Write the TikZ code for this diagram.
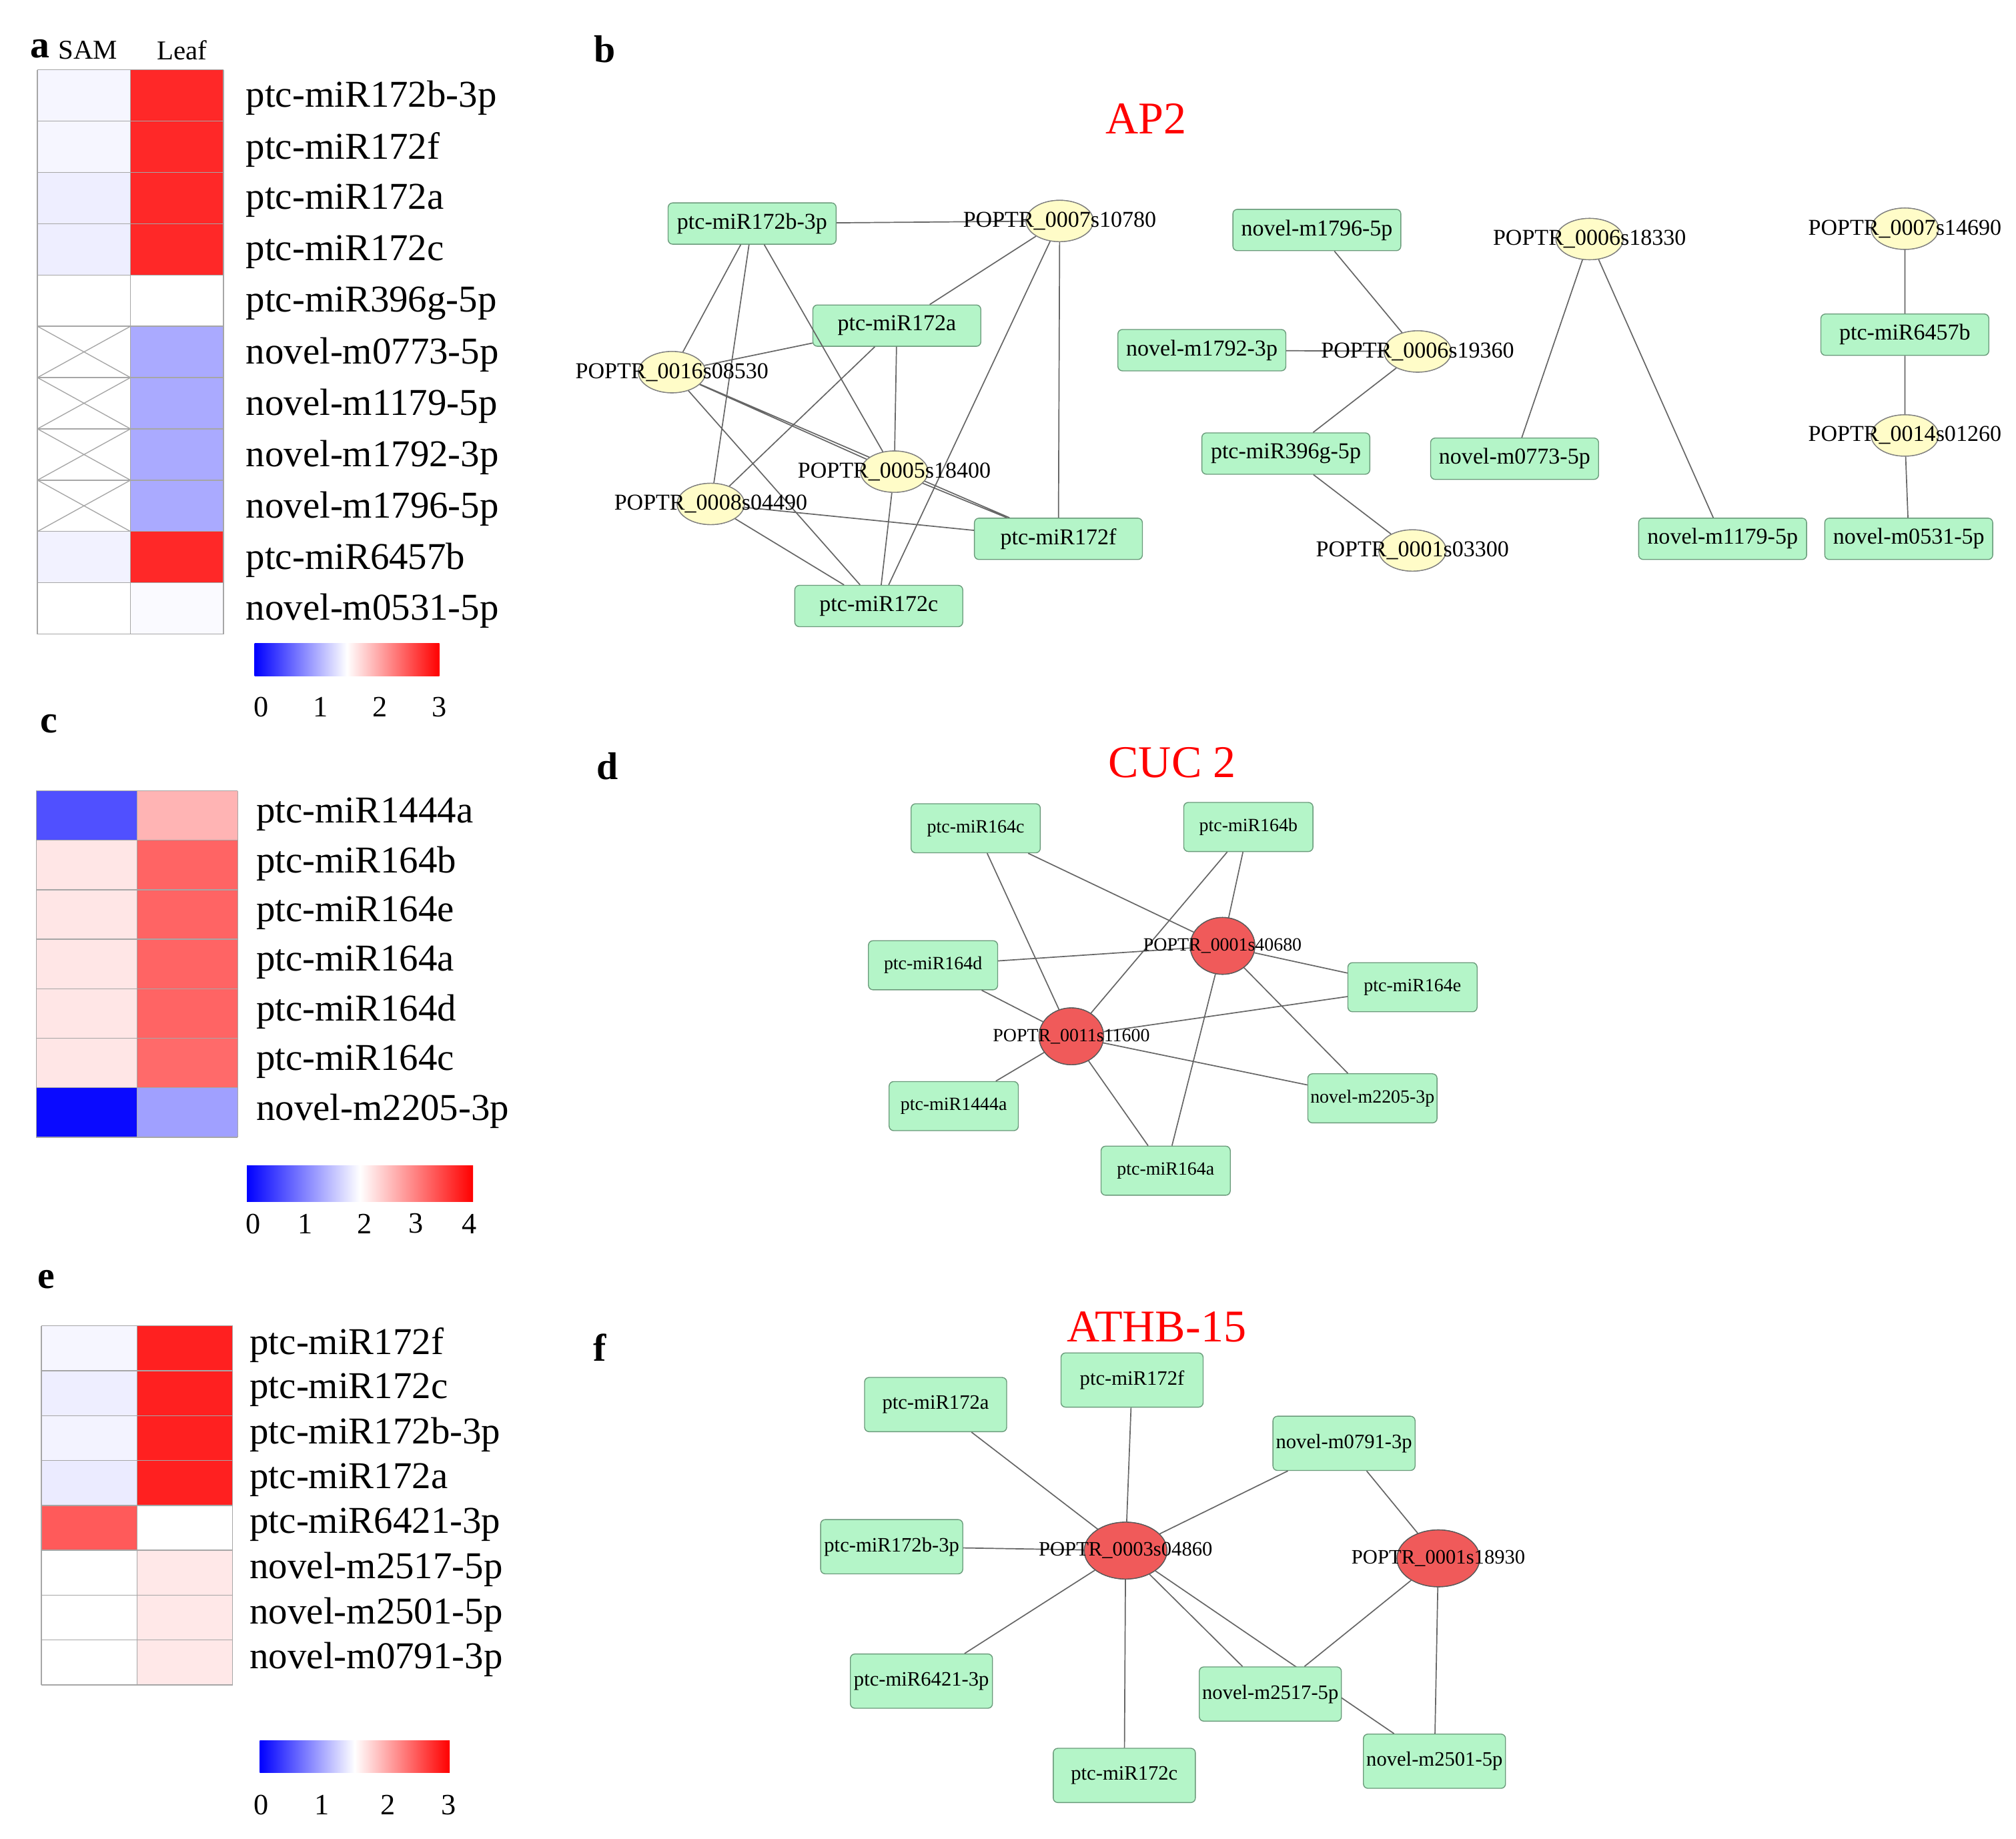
\documentclass[tikz,border=0pt]{standalone}
\usepackage{fontspec}
\setmainfont{Liberation Serif}
\usetikzlibrary{shapes.geometric}
\definecolor{gfill}{HTML}{B4F5C8}
\definecolor{gdraw}{HTML}{6A9A7A}
\definecolor{yfill}{HTML}{FFFCC8}
\definecolor{rfill}{HTML}{F05A5A}
\begin{document}
\begin{tikzpicture}[x=0.02cm,y=-0.02cm,
 gb/.style={draw=gdraw,fill=gfill,rounded corners=2pt,minimum width=2.6cm,minimum height=0.64cm,font=\fontsize{10}{11}\selectfont,inner sep=1pt},
 gd/.style={draw=gdraw,fill=gfill,rounded corners=2pt,minimum width=2cm,minimum height=0.76cm,font=\fontsize{8.2}{9}\selectfont,inner sep=1pt},
 gf/.style={draw=gdraw,fill=gfill,rounded corners=2pt,minimum width=2.2cm,minimum height=0.84cm,font=\fontsize{9}{10}\selectfont,inner sep=1pt},
 ye/.style={ellipse,draw=gray,fill=yfill,minimum width=1.04cm,minimum height=0.64cm,inner sep=0pt},
 re/.style={ellipse,draw=gray!70!black,fill=rfill,minimum width=1cm,minimum height=0.88cm,inner sep=0pt},
 rf/.style={ellipse,draw=gray!70!black,fill=rfill,minimum width=1.28cm,minimum height=0.88cm,inner sep=0pt},
 lab/.style={font=\fontsize{10}{11}\selectfont,inner sep=0pt},
 labf/.style={font=\fontsize{9}{10}\selectfont,inner sep=0pt},
 labs/.style={font=\fontsize{8.2}{9}\selectfont,inner sep=0pt},
 hl/.style={anchor=west,font=\fontsize{16.7}{17}\selectfont,inner sep=0pt},
 tl/.style={font=\fontsize{20}{22}\selectfont,text=red},
 pl/.style={font=\bfseries\fontsize{17}{18}\selectfont},
 ed/.style={draw=gray!80!black,line width=0.5pt},
 cell/.style={draw=gray!70,line width=0.4pt},
 cb/.style={font=\fontsize{13}{14}\selectfont}]
\useasboundingbox (0,0) rectangle (1560,1423);
% ===== a =====
\node[pl] (la) at (31,38) {a};
\node[font=\fontsize{12}{13}\selectfont] (sam) at (68,39) {SAM};
\node[font=\fontsize{12}{13}\selectfont] (leaf) at (141,39) {Leaf};
\foreach \i/\cs/\cl/\t in {0/F6F6FF/FF2828/ptc-miR172b-3p,1/F6F6FF/FF2828/ptc-miR172f,2/EEEEFF/FF2828/ptc-miR172a,3/EEEEFF/FF2828/ptc-miR172c,4/FFFFFF/FFFFFF/ptc-miR396g-5p,5/FFFFFF/AAAAFF/novel-m0773-5p,6/FFFFFF/AAAAFF/novel-m1179-5p,7/FFFFFF/AAAAFF/novel-m1792-3p,8/FFFFFF/AAAAFF/novel-m1796-5p,9/F2F2FF/FF2828/ptc-miR6457b,10/FFFFFF/FAFAFF/novel-m0531-5p}{
 \definecolor{tcs}{HTML}{\cs}\definecolor{tcl}{HTML}{\cl}
 \fill[tcs] (29,54+\i*39.7) rectangle (101,54+\i*39.7+39.7);
 \fill[tcl] (101,54+\i*39.7) rectangle (173,54+\i*39.7+39.7);
 \node[hl] (ta\i) at (190,76+\i*39.7) {\t};
}
\foreach \i in {5,...,8}{\draw[gray!70,line width=0.4pt] (29,54+\i*39.7) -- (101,54+\i*39.7+39.7) (29,54+\i*39.7+39.7) -- (101,54+\i*39.7);}
\foreach \i in {0,...,11}{\draw[cell] (29,54+\i*39.7) -- (173,54+\i*39.7);}
\draw[cell] (29,54) -- (29,491) (101,54) -- (101,491) (173,54) -- (173,491);
\shade[left color=blue,right color=red,middle color=white] (197,498) rectangle (340,523);
\foreach \v/\x in {0/202,1/248,2/294,3/340}{\node[cb] (ca\v) at (\x,547) {\v};}
% ===== c =====
\node[pl] (lc) at (38,560) {c};
\foreach \i/\cs/\cl/\t in {0/5050FF/FFB4B4/ptc-miR1444a,1/FFE6E6/FF6464/ptc-miR164b,2/FFE6E6/FF6464/ptc-miR164e,3/FFE6E6/FF6464/ptc-miR164a,4/FFE6E6/FF6464/ptc-miR164d,5/FFE6E6/FF6A6A/ptc-miR164c,6/0A0AFF/A0A0FF/novel-m2205-3p}{
 \definecolor{tcs}{HTML}{\cs}\definecolor{tcl}{HTML}{\cl}
 \fill[tcs] (28,612+\i*38.3) rectangle (106,612+\i*38.3+38.3);
 \fill[tcl] (106,612+\i*38.3) rectangle (184,612+\i*38.3+38.3);
 \node[hl] (tc\i) at (198,630+\i*38.3) {\t};
}
\foreach \i in {0,...,7}{\draw[cell] (28,612+\i*38.3) -- (184,612+\i*38.3);}
\draw[cell] (28,612) -- (28,880) (106,612) -- (106,880) (184,612) -- (184,880);
\shade[left color=blue,right color=red,middle color=white] (191,902) rectangle (366,930);
\foreach \v/\x in {0/196,1/236,2/282,3/322,4/363}{\node[cb] (cc\v) at (\x,947) {\v};}
% ===== e =====
\node[pl] (le) at (36,990) {e};
\foreach \i/\cs/\cl/\t in {0/F6F6FF/FF2020/ptc-miR172f,1/EEEEFF/FF2020/ptc-miR172c,2/F3F3FF/FF2020/ptc-miR172b-3p,3/EBEBFF/FF2020/ptc-miR172a,4/FF5A5A/FFFFFF/ptc-miR6421-3p,5/FFFFFF/FFE8E8/novel-m2517-5p,6/FFFFFF/FFE8E8/novel-m2501-5p,7/FFFFFF/FFE8E8/novel-m0791-3p}{
 \definecolor{tcs}{HTML}{\cs}\definecolor{tcl}{HTML}{\cl}
 \fill[tcs] (32,1026+\i*34.75) rectangle (106,1026+\i*34.75+34.75);
 \fill[tcl] (106,1026+\i*34.75) rectangle (180,1026+\i*34.75+34.75);
 \node[hl] (te\i) at (193,1041+\i*34.75) {\t};
}
\foreach \i in {0,...,8}{\draw[cell] (32,1026+\i*34.75) -- (180,1026+\i*34.75);}
\draw[cell] (32,1026) -- (32,1304) (106,1026) -- (106,1304) (180,1026) -- (180,1304);
\shade[left color=blue,right color=red,middle color=white] (201,1347) rectangle (348,1372);
\foreach \v/\x in {0/202,1/249,2/300,3/347}{\node[cb] (ce\v) at (\x,1397) {\v};}
% ===== b =====
\node[pl] (lb) at (468,38) {b};
\node[tl] (tb) at (887,92) {AP2};
\node[ye] (p10780) at (820,171) {};
\node[ye] (p18330) at (1230,185) {};
\node[ye] (p14690) at (1474,177) {};
\node[ye] (p08530) at (520,288) {};
\node[ye] (p19360) at (1097,272) {};
\node[ye] (p18400) at (692,365) {};
\node[ye] (p01260) at (1474,337) {};
\node[ye] (p04490) at (550,390) {};
\node[ye] (p03300) at (1093,426) {};
\node[gb] (b172b) at (582,173) {ptc-miR172b-3p};
\node[gb] (b1796) at (1019,178) {novel-m1796-5p};
\node[gb] (b172a) at (694,252) {ptc-miR172a};
\node[gb] (b1792) at (930,271) {novel-m1792-3p};
\node[gb] (b6457) at (1474,259) {ptc-miR6457b};
\node[gb] (b396) at (995,351) {ptc-miR396g-5p};
\node[gb] (b0773) at (1172,355) {novel-m0773-5p};
\node[gb] (b172f) at (819,417) {ptc-miR172f};
\node[gb] (b1179) at (1333,417) {novel-m1179-5p};
\node[gb] (b0531) at (1477,417) {novel-m0531-5p};
\node[gb] (b172c) at (680,469) {ptc-miR172c};
\draw[ed] (b172b) -- (p10780) (b172b) -- (p08530) (b172b) -- (p04490) (b172b) -- (p18400)
 (p10780) -- (b172a) (p10780) -- (b172f) (p10780) -- (b172c)
 (p08530) -- (b172a) (p08530) -- (p18400) (p08530) -- (b172c) (p08530) -- (b172f)
 (b172a) -- (p04490) (b172a) -- (p18400)
 (p18400) -- (b172f) (p18400) -- (b172c) (p04490) -- (b172f) (p04490) -- (b172c)
 (b1796) -- (p19360) (b1792) -- (p19360) (p19360) -- (b396) (b396) -- (p03300)
 (p18330) -- (b0773) (p18330) -- (b1179)
 (p14690) -- (b6457) (b6457) -- (p01260) (p01260) -- (b0531);
\foreach \n in {p10780,p18330,p14690,p08530,p19360,p18400,p01260,p04490,p03300}{\node[ye] at (\n) {};}
\node[lab] (t10780) at (p10780) {POPTR\_0007s10780};
\node[lab] (t18330) at (p18330) {POPTR\_0006s18330};
\node[lab] (t14690) at (p14690) {POPTR\_0007s14690};
\node[lab] (t08530) at (p08530) {POPTR\_0016s08530};
\node[lab] (t19360) at (p19360) {POPTR\_0006s19360};
\node[lab] (t18400) at (p18400) {POPTR\_0005s18400};
\node[lab] (t01260) at (p01260) {POPTR\_0014s01260};
\node[lab] (t04490) at (p04490) {POPTR\_0008s04490};
\node[lab] (t03300) at (p03300) {POPTR\_0001s03300};
% ===== d =====
\node[pl] (ld) at (470,593) {d};
\node[tl] (td) at (907,590) {CUC 2};
\node[re] (p40680) at (946,732) {};
\node[re] (p11600) at (829,802) {};
\node[gd] (d164c) at (755,641) {ptc-miR164c};
\node[gd] (d164b) at (966,640) {ptc-miR164b};
\node[gd] (d164d) at (722,747) {ptc-miR164d};
\node[gd] (d164e) at (1093,764) {ptc-miR164e};
\node[gd] (d1444) at (738,856) {ptc-miR1444a};
\node[gd] (d2205) at (1062,850) {novel-m2205-3p};
\node[gd] (d164a) at (902,906) {ptc-miR164a};
\draw[ed] (d164c) -- (p40680) (d164c) -- (p11600) (d164b) -- (p40680) (d164b) -- (p11600)
 (d164d) -- (p40680) (d164d) -- (p11600) (p40680) -- (d164e) (p40680) -- (d2205) (p40680) -- (d164a)
 (p11600) -- (d164e) (p11600) -- (d2205) (p11600) -- (d1444) (p11600) -- (d164a);
\node[re] at (p40680) {}; \node[re] at (p11600) {};
\node[labs] (t40680) at (p40680) {POPTR\_0001s40680};
\node[labs] (t11600) at (p11600) {POPTR\_0011s11600};
% ===== f =====
\node[pl] (lf) at (464,1043) {f};
\node[tl] (tf) at (895,1027) {ATHB-15};
\node[rf] (p04860) at (871,1200) {};
\node[rf] (p18930) at (1113,1206) {};
\node[gf] (f172a) at (724,1087) {ptc-miR172a};
\node[gf] (f172f) at (876,1068) {ptc-miR172f};
\node[gf] (f0791) at (1040,1117) {novel-m0791-3p};
\node[gf] (f172b) at (690,1197) {ptc-miR172b-3p};
\node[gf] (f6421) at (713,1301) {ptc-miR6421-3p};
\node[gf] (f2501) at (1110,1363) {novel-m2501-5p};
\node[gf] (f172c) at (870,1374) {ptc-miR172c};
\draw[ed] (f172a) -- (p04860) (f172f) -- (p04860) (f0791) -- (p04860) (f172b) -- (p04860)
 (f6421) -- (p04860) (f172c) -- (p04860) (p04860) -- (f2501)
 (f0791) -- (p18930) (p18930) -- (f2501);
\node[gf] (f2517) at (983,1311) {novel-m2517-5p};
\draw[ed] (p04860) -- (f2517) (p18930) -- (f2517);
\node[rf] at (p04860) {}; \node[rf] at (p18930) {};
\node[labf] (t04860) at (p04860) {POPTR\_0003s04860};
\node[labf] (t18930) at (p18930) {POPTR\_0001s18930};
\end{tikzpicture}
\end{document}
